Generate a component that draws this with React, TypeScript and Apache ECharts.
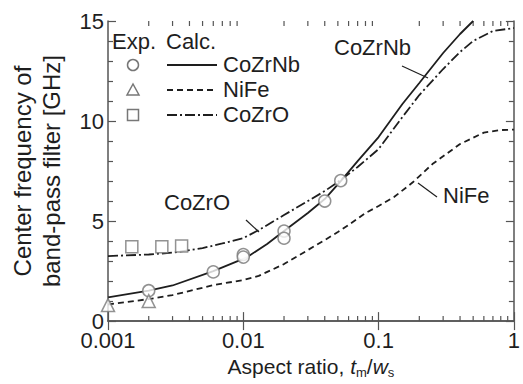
import React, { useEffect, useRef } from "react";
import * as echarts from "echarts";

// ---- data ----
const xTickLabels = ["0.001", "0.01", "0.1", "1"];
const xMinorTicks = [
  0.002, 0.003, 0.004, 0.005, 0.006, 0.007, 0.008, 0.009,
  0.02, 0.03, 0.04, 0.05, 0.06, 0.07, 0.08, 0.09,
  0.2, 0.3, 0.4, 0.5, 0.6, 0.7, 0.8, 0.9,
];
const seriesNames = ["CoZrNb", "NiFe", "CoZrO"];

// calculated curves
const calcCoZrNbX = [0.001, 0.002, 0.003, 0.006, 0.0105, 0.015, 0.02, 0.03, 0.04, 0.0525, 0.07, 0.1, 0.15, 0.2, 0.3, 0.4, 0.5];
const calcCoZrNbY = [1.19, 1.52, 1.78, 2.5, 3.17, 3.85, 4.5, 5.4, 6.1, 7.0, 8.0, 9.2, 10.85, 11.9, 13.4, 14.35, 15.0];

const calcNiFeX = [0.001, 0.002, 0.003, 0.006, 0.01, 0.013, 0.02, 0.03, 0.04, 0.05, 0.06, 0.08, 0.1, 0.13, 0.18, 0.25, 0.4, 0.6, 0.8, 1];
const calcNiFeY = [0.83, 1.1, 1.3, 1.8, 2.05, 2.26, 2.85, 3.55, 4.05, 4.45, 4.8, 5.4, 5.75, 6.2, 6.95, 7.85, 8.85, 9.42, 9.55, 9.57];

const calcCoZrOX = [0.001, 0.002, 0.003, 0.005, 0.007, 0.01, 0.013, 0.02, 0.03, 0.04, 0.05, 0.07, 0.1, 0.15, 0.2, 0.3, 0.4, 0.5, 0.7, 1];
const calcCoZrOY = [3.25, 3.33, 3.42, 3.65, 3.88, 4.15, 4.55, 5.3, 6.0, 6.5, 6.95, 7.7, 8.6, 10.2, 11.3, 12.6, 13.45, 14.0, 14.5, 14.65];

// experimental points
const expCoZrNbX = [0.002, 0.006, 0.01, 0.01, 0.02, 0.02, 0.04, 0.0525];
const expCoZrNbY = [1.52, 2.46, 3.33, 3.2, 4.5, 4.14, 6.0, 7.02];

const expNiFeX = [0.001, 0.002];
const expNiFeY = [0.8, 1.0];

const expCoZrOX = [0.0015, 0.0025, 0.0035];
const expCoZrOY = [3.72, 3.72, 3.75];

const zip = (xs: number[], ys: number[]) => xs.map((x, i) => [x, ys[i]]);

const FONT = "'Liberation Sans', Arial, sans-serif";
const INK = "#1e1e1e";
const AXIS = "#555";
const MARK = "#777";
const DASH = [6, 4];
const DASHDOT = [10, 3, 2, 3];

export default function App() {
  const ref = useRef<HTMLDivElement>(null);

  useEffect(() => {
    if (!ref.current) return;
    const chart = echarts.init(ref.current, undefined, { renderer: "svg" });

    const lineStyleFor = (type: any) => ({ color: INK, width: 1.8, type });
    const markStyle = { color: "#fff", borderColor: MARK, borderWidth: 1.5 };

    const xAxisBase = {
      type: "log" as const,
      logBase: 10,
      min: 0.001,
      max: 1,
      axisLine: { show: true, lineStyle: { color: AXIS, width: 1.5 } },
      axisTick: { show: true, inside: true, length: 9, lineStyle: { color: AXIS, width: 1.2 } },
      splitLine: { show: false },
      minorTick: { show: false },
    };
    const yAxisBase = {
      type: "value" as const,
      min: 0,
      max: 15,
      interval: 5,
      axisLine: { show: true, lineStyle: { color: AXIS, width: 1.5 } },
      axisTick: { show: true, inside: true, length: 8, lineStyle: { color: AXIS, width: 1.2 } },
      minorTick: { show: true, splitNumber: 5, length: 5, lineStyle: { color: AXIS, width: 1.2 } },
      splitLine: { show: false },
    };

    const legendRows = [
      { y: 65, symbol: "circle", dash: null },
      { y: 90, symbol: "triangle", dash: DASH },
      { y: 115, symbol: "rect", dash: DASHDOT },
    ];
    const legendGraphics: any[] = [
      { type: "text", left: 112, top: 30, style: { text: "Exp.", font: `22px ${FONT}`, fill: INK } },
      { type: "text", left: 166, top: 30, style: { text: "Calc.", font: `22px ${FONT}`, fill: INK } },
    ];
    legendRows.forEach((r, i) => {
      const ms = { fill: "#fff", stroke: MARK, lineWidth: 1.5 };
      if (r.symbol === "circle") legendGraphics.push({ type: "circle", shape: { cx: 133, cy: r.y, r: 5.5 }, style: ms });
      else if (r.symbol === "triangle")
        legendGraphics.push({ type: "polygon", shape: { points: [[133, r.y - 6], [127, r.y + 5], [139, r.y + 5]] }, style: ms });
      else legendGraphics.push({ type: "rect", shape: { x: 127.5, y: r.y - 5.5, width: 11, height: 11 }, style: ms });
      legendGraphics.push({
        type: "line",
        shape: { x1: 167, y1: r.y, x2: 217, y2: r.y },
        style: { stroke: INK, lineWidth: 1.8, lineDash: r.dash || undefined },
      });
      legendGraphics.push({
        type: "text",
        left: 223,
        top: r.y - 12,
        style: { text: seriesNames[i], font: `22px ${FONT}`, fill: INK },
      });
    });

    const annot: any[] = [
      { type: "text", left: 334, top: 36, style: { text: "CoZrNb", font: `22px ${FONT}`, fill: INK } },
      { type: "line", shape: { x1: 402, y1: 66, x2: 428, y2: 78 }, style: { stroke: INK, lineWidth: 1.2 } },
      { type: "text", left: 443, top: 184, style: { text: "NiFe", font: `22px ${FONT}`, fill: INK } },
      { type: "line", shape: { x1: 418, y1: 183, x2: 437, y2: 197 }, style: { stroke: INK, lineWidth: 1.2 } },
      { type: "text", left: 164, top: 191, style: { text: "CoZrO", font: `22px ${FONT}`, fill: INK } },
      { type: "line", shape: { x1: 246, y1: 220, x2: 259, y2: 232 }, style: { stroke: INK, lineWidth: 1.2 } },
    ];

    chart.setOption({
      animation: false,
      backgroundColor: "#fff",
      textStyle: { fontFamily: FONT },
      grid: { left: 106, right: 3, top: 21, bottom: 60, containLabel: false },
      xAxis: [
        {
          ...xAxisBase,
          position: "bottom",
          axisLabel: {
            show: true,
            color: INK,
            fontSize: 22,
            lineHeight: 16,
            margin: 11,
            fontFamily: FONT,
            formatter: (v: number) => xTickLabels[Math.round(Math.log10(v)) + 3] ?? "",
          },
          name: "Aspect ratio, {i|t}{sub|m}/{i|w}{sub|s}",
          nameLocation: "middle",
          nameGap: 28,
          nameTextStyle: {
            color: INK,
            fontSize: 21,
            fontFamily: FONT,
            rich: {
              i: { fontStyle: "italic", fontSize: 21, color: INK, fontFamily: FONT },
              sub: { fontSize: 13, color: INK, fontFamily: FONT, padding: [12, 0, 0, 0] },
            },
          },
        },
        { ...xAxisBase, position: "top", axisLabel: { show: false } },
      ],
      yAxis: [
        {
          ...yAxisBase,
          position: "left",
          axisLabel: { show: true, color: INK, fontSize: 22, lineHeight: 16, margin: 4, fontFamily: FONT },
          name: "Center frequency of\nband-pass filter [GHz]",
          nameLocation: "middle",
          nameGap: 42,
          nameRotate: 90,
          nameTextStyle: { color: INK, fontSize: 24, lineHeight: 29, fontFamily: FONT },
        },
        { ...yAxisBase, position: "right", axisLabel: { show: false } },
      ],
      graphic: [...legendGraphics, ...annot],
      series: [
        {
          type: "custom",
          name: "minorTicks",
          xAxisIndex: 0,
          yAxisIndex: 0,
          silent: true,
          clip: false,
          data: xMinorTicks.map((v) => [v, 0]),
          renderItem: (_p: any, api: any) => {
            const x = api.value(0);
            const b = api.coord([x, 0]);
            const t = api.coord([x, 15]);
            const st = { stroke: AXIS, lineWidth: 1.2 };
            return {
              type: "group",
              children: [
                { type: "line", shape: { x1: b[0], y1: b[1], x2: b[0], y2: b[1] - 5 }, style: st },
                { type: "line", shape: { x1: t[0], y1: t[1], x2: t[0], y2: t[1] + 5 }, style: st },
              ],
            };
          },
        },
        {
          type: "line",
          name: "CoZrNb calc",
          data: zip(calcCoZrNbX, calcCoZrNbY),
          symbol: "none",
          lineStyle: lineStyleFor("solid"),
        },
        {
          type: "line",
          name: "NiFe calc",
          data: zip(calcNiFeX, calcNiFeY),
          symbol: "none",
          lineStyle: lineStyleFor(DASH),
        },
        {
          type: "line",
          name: "CoZrO calc",
          data: zip(calcCoZrOX, calcCoZrOY),
          symbol: "none",
          lineStyle: lineStyleFor(DASHDOT),
        },
        {
          type: "scatter",
          name: "CoZrNb exp",
          data: zip(expCoZrNbX, expCoZrNbY),
          symbol: "circle",
          symbolSize: 12,
          itemStyle: markStyle,
          z: 5,
        },
        {
          type: "scatter",
          name: "NiFe exp",
          data: zip(expNiFeX, expNiFeY),
          symbol: "triangle",
          symbolSize: 13,
          itemStyle: markStyle,
          z: 5,
        },
        {
          type: "scatter",
          name: "CoZrO exp",
          data: zip(expCoZrOX, expCoZrOY),
          symbol: "rect",
          symbolSize: 12,
          itemStyle: markStyle,
          z: 5,
        },
      ],
    });

    return () => chart.dispose();
  }, []);

  return <div ref={ref} style={{ width: 523, height: 384, position: "absolute", left: 0, top: 0 }} />;
}
